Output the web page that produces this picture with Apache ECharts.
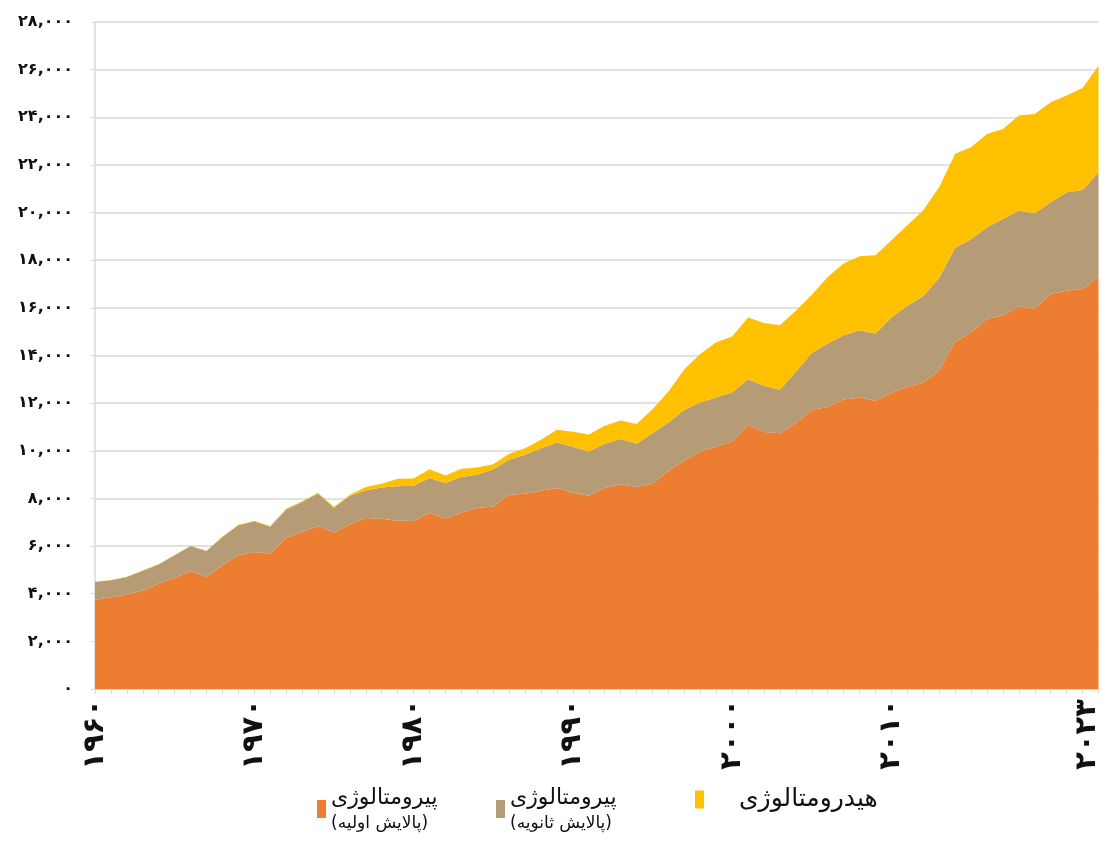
<!DOCTYPE html>
<html>
<head>
<meta charset="utf-8">
<script src="https://cdn.jsdelivr.net/npm/echarts@6/dist/echarts.min.js"></script>
<style>
  html, body { margin: 0; padding: 0; background: #fff; }
  #chart { width: 1102px; height: 841px; }
</style>
</head>
<body>
<div id="chart"></div>
<script>
// سال‌ها
var years = [];
for (var y = 1960; y <= 2023; y++) years.push(String(y));

// سال‌هایی که برچسب دارند
var labelYears = ['1960', '1970', '1980', '1990', '2000', '2010', '2023'];

// پیرومتالوژی (پالایش اولیه)
var primary = [
  3750, 3850, 3970, 4140, 4420, 4670, 4950, 4710, 5200, 5610,
  5750, 5680, 6350, 6590, 6840, 6560, 6920, 7175, 7150, 7060,
  7050, 7385, 7160, 7410, 7595, 7665, 8155, 8195, 8320, 8435,
  8240, 8110, 8435, 8600, 8475, 8615, 9160, 9580, 9970, 10180,
  10390, 11090, 10785, 10740, 11170, 11700, 11845, 12155, 12240, 12100,
  12435, 12685, 12855, 13385, 14575, 14950, 15540, 15680, 16055, 15960,
  16585, 16725, 16795, 17285
];

// پیرومتالوژی (پالایش ثانویه)
var secondary = [
  740, 720, 730, 825, 810, 940, 1050, 1080, 1180, 1260,
  1285, 1130, 1190, 1260, 1370, 1050, 1190, 1160, 1310, 1455,
  1480, 1470, 1485, 1485, 1400, 1565, 1470, 1635, 1790, 1915,
  1930, 1860, 1860, 1890, 1820, 2125, 2030, 2140, 2055, 2070,
  2055, 1915, 1945, 1820, 2150, 2400, 2660, 2700, 2825, 2825,
  3160, 3405, 3645, 3875, 3945, 3930, 3845, 4055, 4030, 4010,
  3850, 4130, 4155, 4405
];

// هیدرومتالوژی
var hydro = [
  10, 10, 10, 15, 15, 15, 15, 15, 20, 20,
  25, 30, 30, 30, 30, 40, 45, 140, 155, 310,
  310, 375, 320, 350, 305, 210, 250, 280, 350, 530,
  630, 715, 755, 785, 825, 1005, 1300, 1705, 2040, 2305,
  2350, 2590, 2630, 2710, 2560, 2450, 2795, 3005, 3105, 3285,
  3245, 3380, 3600, 3815, 3950, 3860, 3915, 3775, 3985, 4170,
  4195, 4055, 4280, 4475
];

var seriesNames = ['primary', 'secondary', 'hydro'];
var legendTitles = ['پیرومتالوژی', 'پیرومتالوژی', 'هیدرومتالوژی'];
var legendSubs = ['(پالایش اولیه)', '(پالایش ثانویه)', ''];
var colors = ['#ED7D31', '#B69B77', '#FFC000'];

var faDigits = '۰۱۲۳۴۵۶۷۸۹';
function toFa(s) {
  return String(s).replace(/[0-9]/g, function (d) { return faDigits[+d]; });
}

var font = "'DejaVu Sans', 'Noto Sans', sans-serif";

var myChart = echarts.init(document.getElementById('chart'), null, { renderer: 'canvas' });

function makeSeries(name, data, color) {
  return {
    name: name,
    type: 'line',
    stack: 'total',
    data: data,
    showSymbol: false,
    symbol: 'none',
    lineStyle: { width: 0 },
    areaStyle: { color: color, opacity: 1 },
    itemStyle: { color: color },
    emphasis: { disabled: true }
  };
}

function makeLegend(i, left) {
  return {
    left: left,
    top: 782,
    icon: 'rect',
    itemWidth: 9,
    itemHeight: 18,
    selectedMode: false,
    data: [seriesNames[i]],
    formatter: function () {
      if (legendSubs[i]) return '{a|' + legendTitles[i] + '}\n{b|' + legendSubs[i] + '}';
      return '{c|' + legendTitles[i] + '}';
    },
    textStyle: {
      fontFamily: font,
      color: '#111',
      rich: {
        a: { fontSize: 22, lineHeight: 30, fontFamily: font, color: '#111' },
        b: { fontSize: 17, lineHeight: 22, fontFamily: font, color: '#111' },
        c: { fontSize: 25, lineHeight: 30, fontFamily: font, color: '#111', padding: [0, 0, 0, 30] }
      }
    }
  };
}

var option = {
  animation: false,
  backgroundColor: '#fff',
  grid: { left: 95, right: 0, top: 22, bottom: 152, containLabel: false },
  legend: [
    makeLegend(0, 312),
    makeLegend(1, 491),
    makeLegend(2, 690)
  ],
  xAxis: {
    type: 'category',
    data: years,
    boundaryGap: false,
    axisLine: { show: true, lineStyle: { color: '#d9d9d9', width: 1.5 } },
    axisTick: { show: true, interval: 0, length: 5, lineStyle: { color: '#d9d9d9' } },
    axisLabel: {
      interval: function (idx, val) { return labelYears.indexOf(val) >= 0; },
      rotate: 90,
      margin: 10,
      fontFamily: font,
      fontWeight: 'bold',
      fontSize: 29,
      color: '#111',
      formatter: function (val) {
        if (val === '2023') return '{last|' + toFa(val) + '}';
        return toFa(val);
      },
      rich: {
        last: { fontFamily: font, fontWeight: 'bold', fontSize: 29, color: '#111', padding: [0, 0, 22, 0] }
      }
    },
    splitLine: { show: false }
  },
  yAxis: {
    type: 'value',
    min: 0,
    max: 28000,
    interval: 2000,
    axisLine: { show: true, lineStyle: { color: '#d9d9d9', width: 1.5 } },
    axisTick: { show: true, length: 4, lineStyle: { color: '#d9d9d9' } },
    axisLabel: {
      margin: 22,
      fontFamily: font,
      fontWeight: 'bold',
      fontSize: 16,
      color: '#111',
      formatter: function (v) {
        return toFa(v.toLocaleString('en-US'));
      }
    },
    splitLine: { show: true, lineStyle: { color: '#d9d9d9', width: 1.5 } }
  },
  series: [
    makeSeries(seriesNames[0], primary, colors[0]),
    makeSeries(seriesNames[1], secondary, colors[1]),
    makeSeries(seriesNames[2], hydro, colors[2])
  ]
};

myChart.setOption(option);
</script>
</body>
</html>
